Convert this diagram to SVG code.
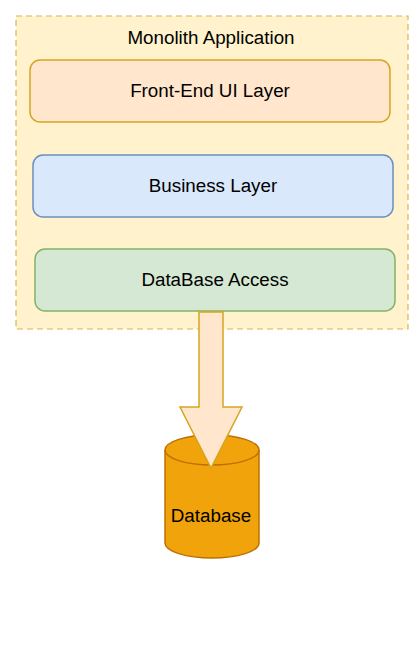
<svg xmlns="http://www.w3.org/2000/svg" width="418" height="647" viewBox="0 0 418 647">
<style>
text{font-family:"Liberation Sans",Arial,sans-serif;font-size:18.8px;fill:#000;text-anchor:middle;dominant-baseline:central}
.layer{stroke-width:1.5}
</style>
<rect width="418" height="647" fill="#fff"/>
<g id="container">
<rect x="16" y="16" width="392" height="313" fill="#fff2cc" stroke="#d6b656" stroke-width="1.2" stroke-dasharray="6 4"/>
<text x="211" y="37">Monolith Application</text>
</g>
<g id="frontend">
<rect class="layer" x="30" y="60" width="360" height="62" rx="10" fill="#ffe6cc" stroke="#d6a520"/>
<text x="210" y="90">Front-End UI Layer</text>
</g>
<g id="business">
<rect class="layer" x="33" y="155" width="360" height="62" rx="10" fill="#dae8fc" stroke="#6c8ebf"/>
<text x="213" y="185">Business Layer</text>
</g>
<g id="dbaccess">
<rect class="layer" x="35" y="249" width="360" height="62" rx="10" fill="#d5e8d4" stroke="#82b366"/>
<text x="215" y="279">DataBase Access</text>
</g>
<g id="database">
<path d="M165 450 A47 15 0 0 1 259 450 L259 543 A47 15 0 0 1 165 543 Z" fill="#f0a30a" stroke="#bd7000" stroke-width="1.5"/>
<path d="M165 450 A47 15 0 0 0 259 450" fill="none" stroke="#bd7000" stroke-width="1.5"/>
<text x="211" y="515">Database</text>
</g>
<g id="connectors">
<path d="M199 312 L223 312 L223 407 L242 407 L211 468 L180 407 L199 407 Z" fill="#ffe6cc" stroke="#d6a520" stroke-width="1.5" stroke-linejoin="miter"/>
</g>
</svg>
